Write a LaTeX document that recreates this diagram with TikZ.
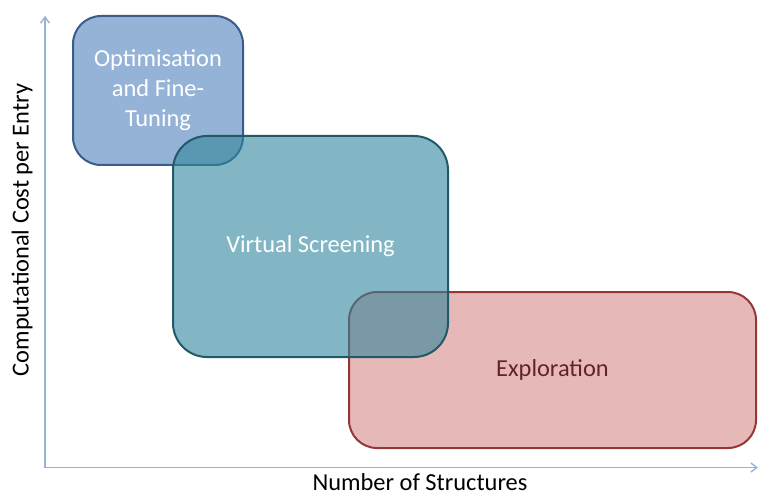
\documentclass[tikz,border=0pt]{standalone}
\usepackage{fontspec}
\setmainfont{Carlito}
\usetikzlibrary{arrows.meta}

\definecolor{axisblue}{RGB}{149,179,215}
\definecolor{optfill}{RGB}{79,129,189}
\definecolor{optline}{RGB}{56,93,138}
\definecolor{vsfill}{RGB}{49,133,156}
\definecolor{vsline}{RGB}{33,89,104}
\definecolor{expfill}{RGB}{230,185,184}
\definecolor{expline}{RGB}{149,55,53}
\definecolor{exptext}{RGB}{99,37,35}

\tikzset{
  label font/.style={font=\fontsize{24.4}{30}\selectfont},
  area/.style={label font, rectangle, draw, line width=2pt, inner sep=0pt, align=center},
  axis/.style={line width=1.4pt, color=axisblue, {Straight Barb[length=6pt,width=9pt]}-{Straight Barb[length=6pt,width=9pt]}}
}

\begin{document}
\begin{tikzpicture}[x=1pt,y=-1pt] %% cost vs. number of structures

\useasboundingbox (0,0) rectangle (758,497);

% axes
\coordinate (ytop) at (45,16);
\coordinate (origin) at (45,467.5);
\coordinate (xend) at (758,467.5);
\draw[axis] (ytop) -- (origin) -- (xend);

\node[label font, rotate=90] (ylab) at (22,230) {Computational Cost per Entry};
\node[label font, inner sep=1pt] (xlab) at (420,482) {Number of Structures};

% areas
\node[area, draw=expline, fill=expfill, text=exptext, rounded corners=28pt,
      minimum width=407pt, minimum height=156pt] (explor) at (552.5,370) {Exploration};
\node[area, draw=optline, fill=optfill, fill opacity=0.6, text opacity=1, text=white, rounded corners=28pt,
      minimum width=170pt, minimum height=149pt] (optim) at (158,90.5) {Optimisation\\and Fine-\\Tuning};
\node[area, draw=vsline, fill=vsfill, fill opacity=0.6, text opacity=1, text=white, rounded corners=34pt,
      minimum width=275pt, minimum height=221pt] (vscreen) at (310.5,246.5) {Virtual Screening};

\end{tikzpicture}
\end{document}
